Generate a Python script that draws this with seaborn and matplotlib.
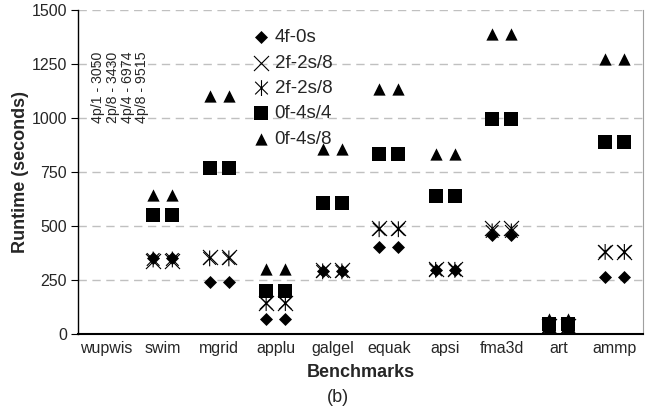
import numpy as np
import pandas as pd
import matplotlib
matplotlib.use("Agg")
import matplotlib.pyplot as plt
from matplotlib.path import Path
from matplotlib.markers import MarkerStyle
import seaborn as sns

# ---- data ----
benchmarks = ['wupwis', 'swim', 'mgrid', 'applu', 'galgel', 'equak', 'apsi', 'fma3d', 'art', 'ammp']
series_names = ['4f-0s', '2f-2s/8', '2f-2s/8 ', '0f-4s/4', '0f-4s/8']
v_4f0s      = [np.nan, 350, 240, 70, 290, 403, 297, 458, 15, 265]
v_2f2s8_x   = [np.nan, 340, 355, 143, 295, 490, 300, 490, 35, 380]
v_2f2s8_ast = [np.nan, 345, 350, 143, 290, 485, 297, 475, 35, 380]
v_0f4s4     = [np.nan, 550, 768, 200, 605, 833, 637, 995, 45, 890]
v_0f4s8     = [np.nan, 643, 1100, 300, 858, 1135, 835, 1388, 70, 1272]
wupwis_notes = ['4p/1 - 3050', '2p/8 - 3430', '4p/4 - 6974', '4p/8 - 9515']
yticks = [0, 250, 500, 750, 1000, 1250, 1500]

values = [v_4f0s, v_2f2s8_x, v_2f2s8_ast, v_0f4s4, v_0f4s8]

# ---- style ----
sns.set_style('white')
plt.rcParams['font.family'] = ['Liberation Sans', 'DejaVu Sans']

star_path = Path(
    [(0, -1), (0, 1), (-0.8, -0.8), (0.8, 0.8), (-0.8, 0.8), (0.8, -0.8)],
    [Path.MOVETO, Path.LINETO, Path.MOVETO, Path.LINETO, Path.MOVETO, Path.LINETO])
star_marker = MarkerStyle(star_path, fillstyle='none')

marker_specs = [
    dict(marker='D', s=44, linewidth=0),
    dict(marker='x', s=117, linewidth=0.8),
    dict(marker=star_marker, s=130, linewidth=0.8),
    dict(marker='s', s=88, linewidth=0),
    dict(marker='^', s=78, linewidth=0),
]
offsets = [-0.17, 0.17]

fig = plt.figure(figsize=(6.45, 4.08), dpi=100)
ax = fig.add_axes([78 / 645, 1 - 334 / 408, 565 / 645, 324 / 408])

for name, vals, spec in zip(series_names, values, marker_specs):
    rows = []
    for i, v in enumerate(vals):
        if np.isnan(v):
            continue
        for off in offsets:
            rows.append({'x': i + off, 'y': v})
    df = pd.DataFrame(rows)
    kw = dict(spec)
    if kw['marker'] in ('D', 's', '^'):
        kw['edgecolor'] = 'black'
    sns.scatterplot(data=df, x='x', y='y', ax=ax, color='black', label=name.strip(),
                    zorder=3, **kw)

ax.set_xlim(-0.5, 9.5)
ax.set_ylim(0, 1500)
ax.set_yticks(yticks)
ax.set_yticklabels([str(t) for t in yticks], fontsize=11.5)
ax.set_xticks(range(len(benchmarks)))
ax.set_xticklabels(benchmarks, fontsize=11.5)
ax.tick_params(axis='x', length=0, pad=5)
ax.tick_params(axis='y', length=5, width=0.8, pad=3, left=True, direction='out', color='black')
ax.yaxis.grid(True, color='#c0c0c0', linestyle=(0, (6, 4)), linewidth=1.0)
ax.xaxis.grid(False)
ax.set_axisbelow(True)

ax.spines['top'].set_visible(False)
ax.spines['right'].set_color('#a0a0a0')
ax.spines['right'].set_linewidth(0.8)
ax.spines['left'].set_color('black')
ax.spines['left'].set_linewidth(1.0)
ax.spines['bottom'].set_color('black')
ax.spines['bottom'].set_linewidth(1.5)

ax.set_xlabel('Benchmarks', fontsize=13, fontweight='bold', labelpad=6)
ax.set_ylabel('Runtime (seconds)', fontsize=13, fontweight='bold', labelpad=2)

note_x = [-0.146, 0.119, 0.385, 0.633]
for xpos, txt in zip(note_x, wupwis_notes):
    ax.text(xpos, 975, txt, rotation=90, ha='center', va='bottom', fontsize=10.2)

leg = ax.legend(loc='upper left', bbox_to_anchor=(0.3115, 0.941), frameon=False,
                fontsize=13.5, handlelength=0.8, handletextpad=0.3, borderpad=0,
                borderaxespad=0, labelspacing=0.44, scatterpoints=1)

fig.text(338 / 645, 1 - 397 / 408, '(b)', ha='center', va='center', fontsize=13)

fig.savefig('out.png', dpi=100)
